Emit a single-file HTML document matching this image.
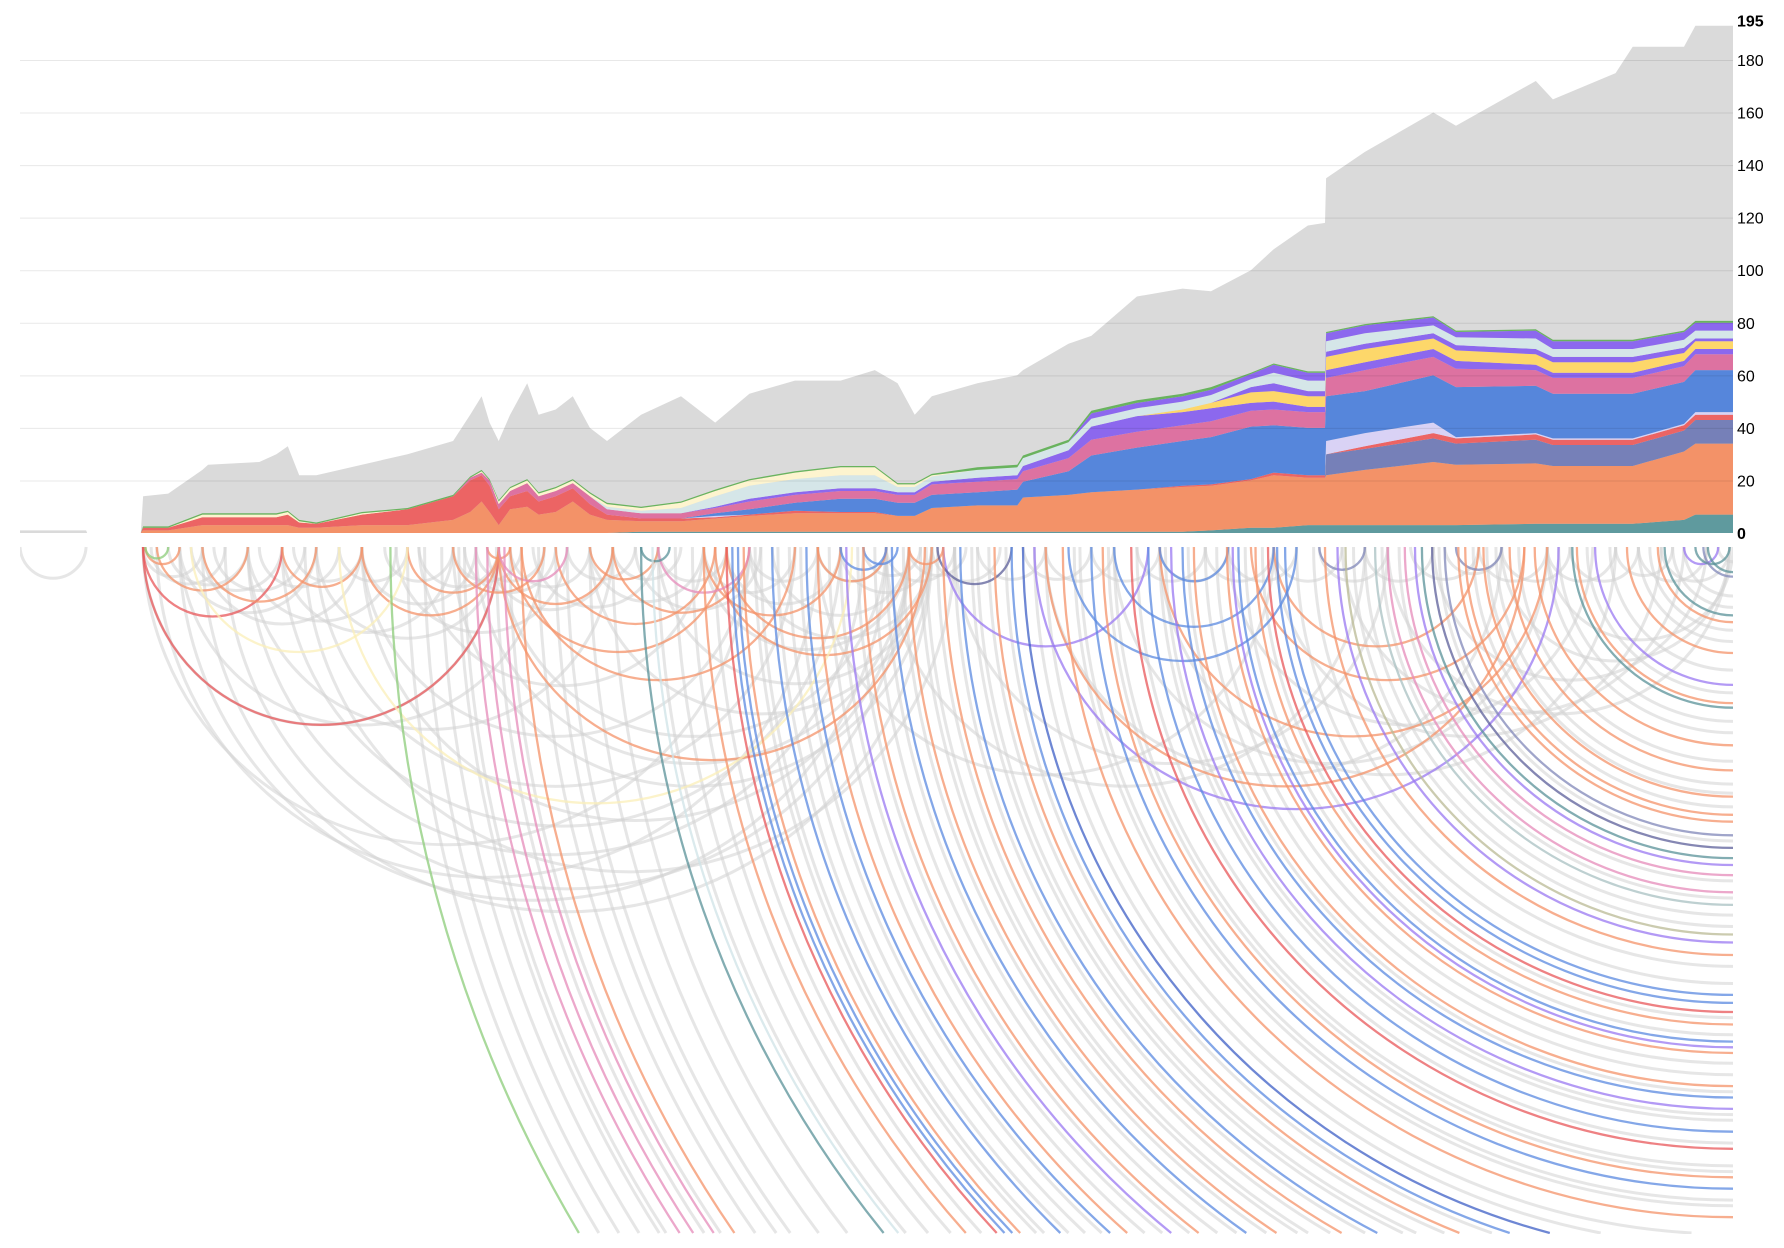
<!DOCTYPE html>
<html><head><meta charset="utf-8"><title>Arc and stacked area chart</title>
<style>
html,body{margin:0;padding:0;background:#fff;width:1784px;height:1248px;overflow:hidden;}
svg{display:block;}
text{font-family:"Liberation Sans",Arial,sans-serif;}
</style></head>
<body>
<svg id="chart" width="1784" height="1248" viewBox="0 0 1784 1248" xmlns="http://www.w3.org/2000/svg" overflow="hidden">
<defs><clipPath id="arcclip"><rect x="20" y="545" width="1713" height="689"/></clipPath>
<clipPath id="plotclip"><rect x="20" y="0" width="1713" height="534"/></clipPath></defs>
<g id="areas" clip-path="url(#plotclip)"></g>
<g id="grid"></g>
<g id="yaxis"></g>
<g id="arcs" clip-path="url(#arcclip)"></g>
</svg>
<script>
const days=[0,58,59,106,108,130,160,165,210,225,235,245,260,300,340,380,395,405,412,420,430,445,455,470,485,500,515,545,580,610,640,680,720,750,770,785,800,840,875,880,920,940,980,1020,1045,1080,1100,1130,1145,1146,1180,1240,1260,1330,1345,1400,1415,1460,1470,1503];
const totalSeries=[1,1,0,0,14,15,24,26,27,30,33,22,22,26,30,35,45,52,42,35,45,57,45,47,52,40,35,45,52,42,53,58,58,62,57,45,52,57,60,62,72,75,90,93,92,100,108,117,118,135,145,160,155,172,165,175,185,185,193,193];
const teal=[0,0,0,0,0,0,0,0,0,0, 0,0,0,0,0,0,0,0,0,0, 0,0,0,0,0,0,0,.5,.5,.5, .5,.5,.5,.5,.5,.5,.5,.5,.5,.5, .5,.5,.5,.5,1,2,2,3,3,3, 3,3,3,3.5,3.5,3.5,3.5,5,7,7];
const orange=[0,0,0,0,1,1,3,3,3,3, 3,2,2,3,3,5,8,12,8,3, 9,10,7,8,12,7,5,4,4,5, 6,7,7,7,6,6,9,10,10,13, 14,15,16,17,17,18,20,18,18,19, 21,24,23,23,22,22,22,26,27,27];
const slate=[0,0,0,0,0,0,0,0,0,0, 0,0,0,0,0,0,0,0,0,0, 0,0,0,0,0,0,0,0,0,0, 0,0,0,0,0,0,0,0,0,0, 0,0,0,0,0,0,0,0,0,8, 8,9,8,9,8,8,8,8,9,9];
const red=[0,0,0,0,1,1,3,3,3,3, 4,2,1.5,4,6,9,12,10,10,6, 5,6,5,6,5,4,2,1,1,.5, .5,1,.5,.5,0,0,0,0,0,0, 0,0,0,.5,.5,.5,1,1,1,0, 1,2,2,2,2,2,2,2,2,2];
const lavender=[0,0,0,0,0,0,0,0,0,0, 0,0,0,0,0,0,0,0,0,0, 0,0,0,0,0,0,0,0,0,.5, 0,0,0,0,0,0,0,0,0,0, 0,0,0,0,0,0,0,0,0,5, 5,4,.5,.5,.5,.5,.5,.5,1,1];
const blue=[0,0,0,0,0,0,0,0,0,0, 0,0,0,0,0,0,0,0,0,0, 0,0,0,0,0,0,0,0,0,1, 2,3,5,5,5,5,5,5,6,6, 9,14,16,17,18,20,18,18,18,17, 16,18,19,18,17,17,17,16,16,16];
const pink=[0,0,0,0,0,0,0,0,0,0, 0,0,0,0,0,0,1,1,2,2, 2,3,2,2,2,3,2,2,2,2, 3,3,3,3,3,3,4,4,4,4, 5,6,6,6,6,6,6,6,6,7, 8,7,7,6,6,6,6,6,6,6];
const purple=[0,0,0,0,0,0,0,0,0,0, 0,0,0,0,0,0,0,0,0,0, 0,0,0,0,0,0,0,0,0,.5, 1,1,1,1,1,1,1,1.5,1.5,2, 3,5,6,5,5,3,3,2,2,3, 3,3,3,2,2,2,2,2,2,2];
const yellow=[0,0,0,0,0,0,0,0,0,0, 0,0,0,0,0,0,0,0,0,0, 0,0,0,0,0,0,0,0,0,0, 0,0,0,0,0,0,0,0,0,0, 0,0,0,1,2,4,4,4,4,5, 5,4,4,4,4,4,4,3,3,3];
const purple2=[0,0,0,0,0,0,0,0,0,0, 0,0,0,0,0,0,0,0,0,0, 0,0,0,0,0,0,0,0,0,0, 0,0,0,0,0,0,0,0,0,0, 0,0,0,0,0,2,3,2,2,2, 2,2,2,2,2,2,2,2,1,1];
const cyan=[0,0,0,0,0,0,0,0,0,0, 0,0,0,0,0,0,0,0,0,0, 0,0,0,0,0,0,1,1,2,4, 5,5,5,5,2,2,2,3,3,3, 3,3,3,3,3,3,4,4,4,4, 4,3,3,4,3,3,3,3,3,3];
const cream=[0,0,0,0,0,0,1,1,1,1, 1,.5,0,.5,0,0,0,.5,0,1, 1,1,1,1,1,1,1,1,2,2, 2,2.5,3,3,1,1,.5,0,0,0, 0,0,0,0,0,0,0,0,0,0, 0,0,0,0,0,0,0,0,0,0];
const purple3=[0,0,0,0,0,0,0,0,0,0, 0,0,0,0,0,0,0,0,0,0, 0,0,0,0,0,0,0,0,0,0, 0,0,0,0,0,0,0,0,0,0, 0,2,2,2,2,2,3,3,3,3, 3,3,2,3,3,3,3,3,3,3];
const green=[0,0,0,0,.5,.5,.5,.5,.5,.5, .5,.5,.5,.5,.5,.5,.5,.5,.5,.5, .5,.5,.5,.5,.5,.5,.5,.5,.5,.5, .5,.5,.5,.5,.5,.5,.5,1,1,1, 1,1,1,1,1,.5,.5,.5,.5,.5, .5,.5,.5,.5,.5,.5,.5,.5,.7,.7];
const layerNames=["teal","orange","slate","red","lavender","blue","pink","purple","yellow","purple-2","cyan","cream","purple-3","green"];
const layerColors=["#5f9a9e","#f39268","#7680b8","#ec6464","#d9d2f5","#5686db","#dd72a1","#8c68ee","#fdd76a","#8c68ee","#d5e6e8","#fdf4cf","#8c68ee","#69b35e"];
const layers=[teal,orange,slate,red,lavender,blue,pink,purple,yellow,purple2,cyan,cream,purple3,green];
const yTicks=[0,20,40,60,80,100,120,140,160,180,195];

const arcFrom=[0,108,115,130,140,150,160,170,200,210,230,240,260,280,300,320,330,350,380,390,400,410,430,450,480,500,520,540,560,600,620,640,660,700,720,740,760,780,800,840,880,900,940,980,1000,1040,1060,1100,1140,1180,1220,1250,1280,1300,1340,1360,1400,1420,1440,
108,120,140,160,180,200,230,260,300,350,108,140,200,380,400,420,300,250,500,560,600,640,700,760,820,900,960,1000,1060,1100,1160,1200,1240,1300,1340,
108,108,420,110,120,160,230,300,340,380,410,420,430,440,470,500,520,600,610,620,700,780,900,1000,1080,1100,280,150,420,560,890,810,960,1460,920,1000,720,740,805,1140,1260,545,1470,110];
const arcTo=[58,160,180,200,260,230,300,250,330,280,380,300,420,340,400,380,480,420,440,470,460,520,500,560,540,600,580,650,620,680,720,700,780,760,800,790,820,830,860,900,940,960,1000,1040,1060,1100,1120,1160,1200,1240,1280,1300,1340,1360,1400,1420,1450,1480,1500,
640,700,760,800,780,740,720,680,640,600,420,460,520,800,780,760,780,820,800,800,780,800,1100,1180,1200,1300,1340,1400,1380,1440,1460,1500,1480,1500,1503,
420,230,794,140,200,260,300,420,420,460,430,520,620,680,610,560,640,720,800,780,760,810,1320,1340,1320,1280,730,340,480,640,1350,990,1100,1490,1120,1060,760,770,870,1180,1300,570,1500,130];
const arcCat=["gray","gray","gray","gray","gray","gray","gray","gray","gray","gray","gray","gray","gray","gray","gray","gray","gray","gray","gray","gray","gray","gray","gray","gray","gray","gray","gray","gray","gray","gray","gray","gray","gray","gray","gray","gray","gray","gray","gray","gray","gray","gray","gray","gray","gray","gray","gray","gray","gray","gray","gray","gray","gray","gray","gray","gray","gray","gray","gray",
"gray","gray","gray","gray","gray","gray","gray","gray","gray","gray","gray","gray","gray","gray","gray","gray","gray","gray","gray","gray","gray","gray","gray","gray","gray","gray","gray","gray","gray","gray","gray","gray","gray","gray","gray",
"red","red","orange","orange","orange","orange","orange","orange","orange","orange","orange","orange","orange","orange","orange","orange","orange","orange","orange","orange","orange","orange","orange","orange","orange","orange","yellow","yellow","pink","pink","purple","purple","blue","purple","blue","blue","blue","blue","darkslate","slate","slate","teal","teal","green"];
const openFrom=[340,355,370,385,430,455,480,500,520,560,575,590,610,650,665,685,720,735,760,775,790,805,820,835,850,865,900,930,955,980,1005,1025,1050,1075,1090,1120,1135,1170,1180,1195,1210,1245,1275,1295,1315,1340,1350,1375,1395,1420,1430,1450,1460,1490,
325,400,410,418,425,390,440,470,545,555,600,620,625,630,635,645,660,675,690,700,710,725,740,750,765,780,795,810,825,840,855,870,880,890,915,925,940,950,960,975,990,1000,1010,1020,1030,1040,
1059,1064,1069,1084,1095,1103,1110,1145,1156,1163,1189,1200,1215,1224,1230,1239,1250,1262,1268,1284,1287,1307,1329,1362,1366,1382,1410,1437,1443,1477,1481];
const openCat=["gray","gray","gray","gray","gray","gray","gray","gray","gray","gray","gray","gray","gray","gray","gray","gray","gray","gray","gray","gray","gray","gray","gray","gray","gray","gray","gray","gray","gray","gray","gray","gray","gray","gray","gray","gray","gray","gray","gray","gray","gray","gray","gray","gray","gray","gray","gray","gray","gray","gray","gray","gray","gray","gray",
"green","pink","pink","gray","pink","gray","orange","gray","teal","lightblue","orange","red","blue","blue","orange","gray","blue","gray","blue","orange","gray","purple","orange","gray","blue","orange","gray","orange","blue","gray","orange","blue","darkblue","gray","orange","gray","blue","orange","gray","red","blue","gray","purple","blue","orange","gray",
"orange","purple","blue","orange","red","blue","blue","orange","purple","olive","grayteal","pink","pink","purple","teal","darkslate","slate","orange","orange","orange","gray","orange","orange","teal","orange","purple","orange","orange","teal","slate","teal"];
const catColor={gray:"#d2d2d2",orange:"#f4936a",red:"#e8575a",pink:"#e68bb9",teal:"#5a9298",blue:"#5b8ae0",darkblue:"#3d5fc6",purple:"#9a78f2",slate:"#8087b8",darkslate:"#5c5f9a",green:"#8ccc7a",yellow:"#fbefb8",olive:"#b9b994",grayteal:"#a8c0c2",lightblue:"#cfe3e7"};

const NS="http://www.w3.org/2000/svg";
const X0=20,X1=1733,DMAX=1503,BASE=533,PX=2.628,ARCY=547,ARCH=686;
function xs(d){return X0+d*(X1-X0)/DMAX;}
function ys(v){return BASE-v*PX;}

const areas=document.getElementById('areas');
function areaPath(lo,hi){
  let p="M"+xs(days[0])+","+ys(hi[0]);
  for(let i=1;i<days.length;i++)p+="L"+xs(days[i]).toFixed(1)+","+ys(hi[i]).toFixed(1);
  for(let i=days.length-1;i>=0;i--)p+="L"+xs(days[i]).toFixed(1)+","+ys(lo[i]).toFixed(1);
  return p+"Z";
}
const zero=days.map(()=>0);
const gp=document.createElementNS(NS,'path');
gp.setAttribute('d',areaPath(zero,totalSeries));
gp.setAttribute('fill','#dadada');


areas.appendChild(gp);
let cum=zero.slice();
layers.forEach((L,k)=>{
  const next=cum.map((c,i)=>c+L[i]);
  const p=document.createElementNS(NS,'path');
  p.setAttribute('d',areaPath(cum,next));
  p.setAttribute('fill',layerColors[k]);
  
  
  areas.appendChild(p);
  cum=next;
});

const grid=document.getElementById('grid');
const yaxis=document.getElementById('yaxis');
yTicks.forEach(t=>{
  if(t>0&&t<195){
    const l=document.createElementNS(NS,'line');
    l.setAttribute('x1',X0);l.setAttribute('x2',X1);
    l.setAttribute('y1',ys(t)+0.5);l.setAttribute('y2',ys(t)+0.5);
    l.setAttribute('stroke','#000');l.setAttribute('stroke-opacity','0.09');
    
    
    grid.appendChild(l);
  }
  const tx=document.createElementNS(NS,'text');
  tx.setAttribute('x',1737);tx.setAttribute('y',ys(t)+6);
  tx.setAttribute('font-size','16');tx.setAttribute('fill','#000');
  if(t===0||t===195)tx.setAttribute('font-weight','bold');
  tx.textContent=t;
  
  
  yaxis.appendChild(tx);
});

const arcsG=document.getElementById('arcs');
function addArc(d,cat,name){
  const p=document.createElementNS(NS,'path');
  p.setAttribute('d',d);
  p.setAttribute('fill','none');
  p.setAttribute('stroke',catColor[cat]);
  p.setAttribute('stroke-width',cat==='gray'?'3':'2.3');
  p.setAttribute('stroke-opacity',cat==='gray'?'0.55':'0.75');
  
  
  arcsG.appendChild(p);
}
function closedD(i){const a=xs(arcFrom[i]),b=xs(arcTo[i]),r=(b-a)/2;return "M"+a.toFixed(1)+","+ARCY+"A"+r.toFixed(1)+","+r.toFixed(1)+" 0 0 0 "+b.toFixed(1)+","+ARCY;}
function openD(i){
  const a=xs(openFrom[i]),c=xs(DMAX),r=c-a;
  let ex=c,ey=ARCY+r;
  if(r>ARCH){ex=c-Math.sqrt(r*r-ARCH*ARCH);ey=ARCY+ARCH;}
  return "M"+a.toFixed(1)+","+ARCY+"A"+r.toFixed(1)+","+r.toFixed(1)+" 0 0 0 "+ex.toFixed(1)+","+ey.toFixed(1);
}
[true,false].forEach(grayPass=>{
  arcFrom.forEach((f,i)=>{ if((arcCat[i]==='gray')===grayPass) addArc(closedD(i),arcCat[i],'arc-'+arcCat[i]); });
  openFrom.forEach((f,i)=>{ if((openCat[i]==='gray')===grayPass) addArc(openD(i),openCat[i],'open-arc-'+openCat[i]); });
});
</script>
</body></html>
